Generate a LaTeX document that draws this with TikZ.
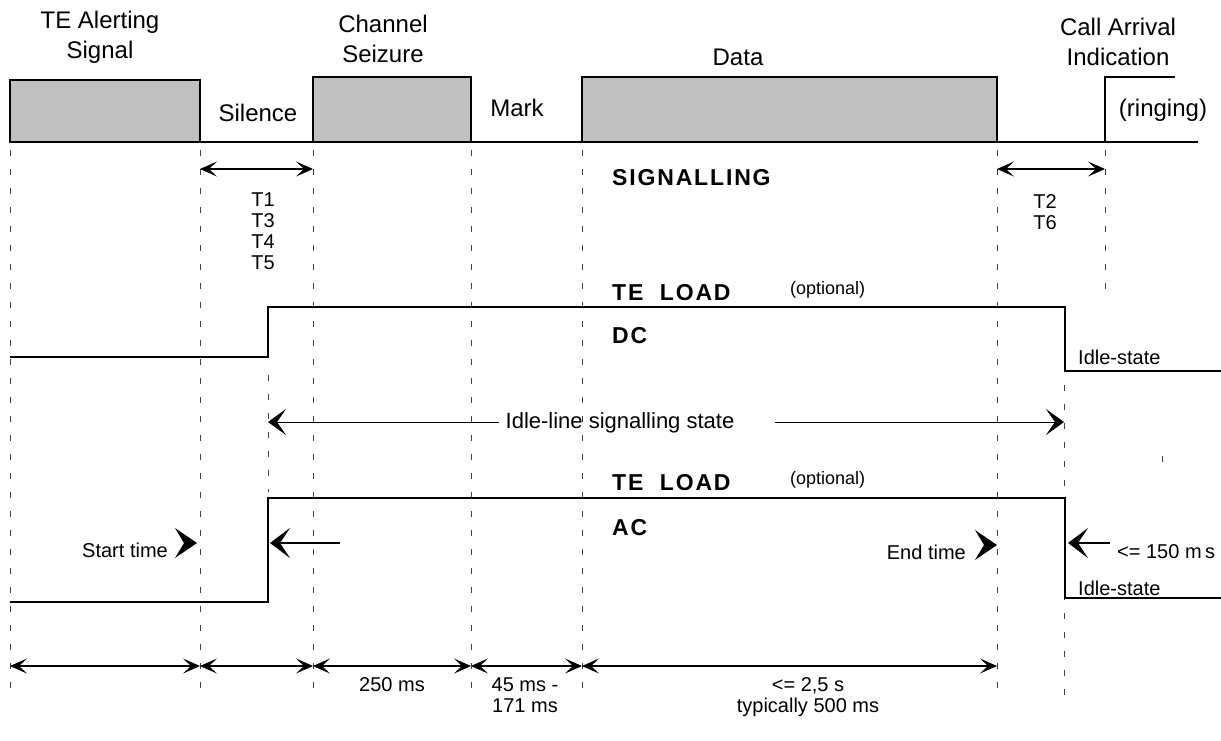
\documentclass[tikz,border=0pt]{standalone}
\usepackage{fontspec}
\setmainfont{Liberation Sans}
\usetikzlibrary{arrows.meta}

\definecolor{boxgray}{HTML}{C0C0C0}

\tikzset{
  sig/.style={line width=2.3pt},
  grid/.style={line width=1pt, dash pattern=on 6pt off 13pt, black!75},
  dim/.style={line width=1.2pt, {Stealth[length=17pt,width=15pt,inset=8pt]}-{Stealth[length=17pt,width=15pt,inset=8pt]}},
  wide/.style={line width=1pt},
  lbl/.style={font=\fontsize{24}{30}\selectfont, inner sep=0pt},
  sml/.style={font=\fontsize{20}{21}\selectfont, inner sep=0pt},
  tny/.style={font=\fontsize{18}{21}\selectfont, inner sep=0pt},
  bld/.style={font=\fontsize{23}{26}\selectfont\bfseries\addfontfeature{LetterSpace=8}, inner sep=0pt},
}

\begin{document}
\begin{tikzpicture}[x=1pt,y=-1pt]
    \useasboundingbox (0,0) rectangle (1221,740);

    % Time marks
    \foreach \x/\ya/\yb in {10/150/692, 200/150/692, 313/150/700, 471/150/700, 582/150/700,
                            997/150/700, 1105/150/300, 268/375/492, 1064/385/700}
        \draw[grid] (\x,\ya) -- (\x,\yb);
    \draw[grid, dash pattern=] (1162,456) -- (1162,462);

    % Signalling line
    \draw[sig, fill=boxgray] (10,142) rectangle (200,80);
    \draw[sig, fill=boxgray] (313,142) rectangle (471,77);
    \draw[sig, fill=boxgray] (582,142) rectangle (997,77);
    \draw[sig] (200,142) -- (313,142) (471,142) -- (582,142);
    \draw[sig] (997,142) -- (1105,142) -- (1105,77) -- (1175,77);
    \draw[sig] (1105,142) -- (1198,142);

    \node[lbl, align=center] (alert) at (100,37) {TE Alerting\\Signal};
    \node[lbl, align=center] (seize) at (383,39) {Channel\\Seizure};
    \node[lbl] (data) at (738,57) {Data};
    \node[lbl, align=center] (call) at (1118,42) {Call Arrival\\Indication};
    \node[lbl] (silence) at (258,113) {Silence};
    \node[lbl] (mark) at (517,108) {Mark};
    \node[lbl] (ring) at (1163,110) {(ringing)};

    \coordinate (s1) at (200,169);
    \coordinate (s2) at (313,169);
    \coordinate (s3) at (997,169);
    \coordinate (s4) at (1105,169);
    \draw[dim] (s1) -- (s2);
    \draw[dim] (s3) -- (s4);
    \node[bld, anchor=west] (sigl) at (612,178) {SIGNALLING};
    \node[sml, align=center] (tone) at (263,231) {T1\\T3\\T4\\T5};
    \node[sml, align=center] (ttwo) at (1045,212) {T2\\T6};

    % DC load
    \draw[sig] (10,357) -- (268,357) -- (268,307) -- (1065,307) -- (1065,371) -- (1221,371);
    \node[bld, anchor=west] (dcload) at (612,293) {TE\ \ LOAD};
    \node[tny, anchor=west] (dcopt) at (790,290) {(optional)};
    \node[bld, anchor=west] (dc) at (612,336) {DC};
    \node[sml, anchor=west] (dcidle) at (1078,357) {Idle-state};

    \coordinate (il1) at (268,422);
    \coordinate (il2) at (1064,422);
    \node[sml, font=\fontsize{22}{24}\selectfont] (idle) at (620,423) {Idle-line signalling state};
    \draw[wide, {Stealth[length=18pt,width=26pt,inset=9pt]}-] (il1) -- ([xshift=-6pt]idle.west |- il1);
    \draw[wide, -{Stealth[length=18pt,width=26pt,inset=9pt]}] ([xshift=40pt]idle.east |- il2) -- (il2);

    % AC load
    \draw[sig] (10,602) -- (268,602) -- (268,498) -- (1065,498) -- (1065,598) -- (1221,598);
    \node[bld, anchor=west] (acload) at (612,483) {TE\ \ LOAD};
    \node[tny, anchor=west] (acopt) at (790,480) {(optional)};
    \node[bld, anchor=west] (ac) at (612,528) {AC};
    \node[sml, anchor=east] (start) at (168,550) {Start time};
    \fill (197,543) -- ++(-22,-15) -- ++(9,15) -- ++(-9,15) -- cycle;
    \node[sml, anchor=east] (endt) at (966,552) {End time};
    \fill (997,545) -- ++(-22,-15) -- ++(9,15) -- ++(-9,15) -- cycle;
    \coordinate (on) at (270,543);
    \coordinate (off) at (1068,543);
    \draw[sig, -{Stealth[length=20pt,width=30pt,inset=10pt]}] (340,543) -- (on);
    \draw[sig, -{Stealth[length=20pt,width=30pt,inset=10pt]}] (1110,543) -- (off);
    \node[sml, anchor=west] (lim) at (1117,552) {<= 150 m\,s};
    \node[sml, anchor=west] (acidle) at (1078,588) {Idle-state};

    % Durations
    \foreach \n/\x in {0/10, 1/200, 2/313, 3/471, 4/582, 5/997}
        \coordinate (b\n) at (\x,666);
    \draw[dim] (b0) -- (b1);
    \draw[dim] (b1) -- (b2);
    \draw[dim] (b2) -- (b3);
    \draw[dim] (b3) -- (b4);
    \draw[dim] (b4) -- (b5);
    \node[sml] (d250) at (392,685) {250 ms};
    \node[sml, align=center] (d45) at (525,695) {45 ms -\\171 ms};
    \node[sml, align=center] (d25) at (808,697) {<= 2,5 s\\typically 500 ms};
\end{tikzpicture}
\end{document}
